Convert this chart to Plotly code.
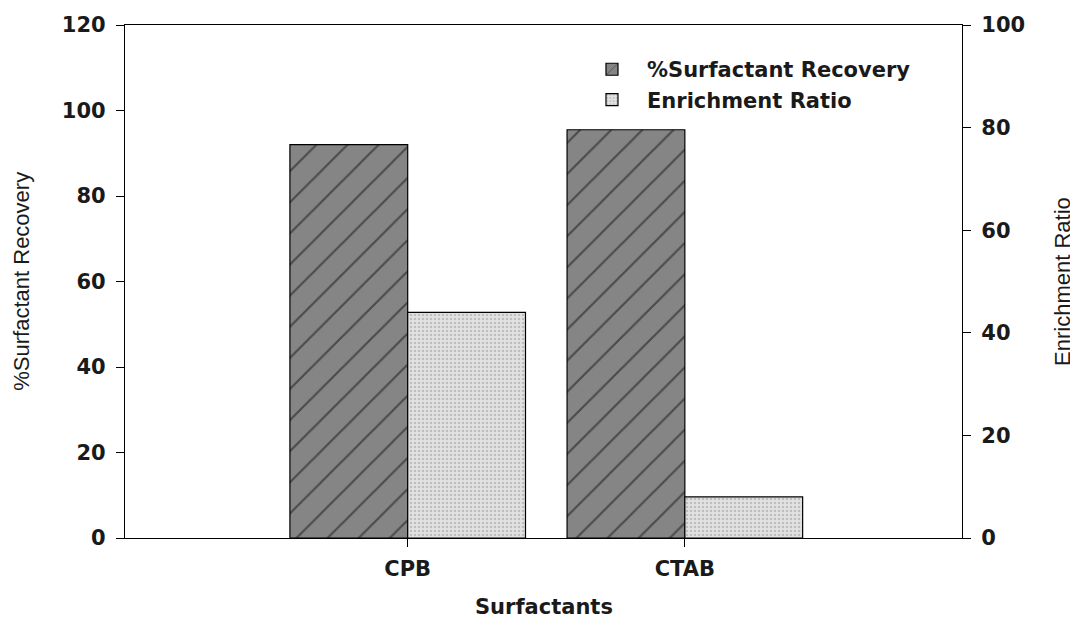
import plotly.graph_objects as go

surfactants = ["CPB", "CTAB"]
recovery = [92, 95.5]
enrichment = [44, 8]

fig = go.Figure()

fig.add_trace(go.Bar(
    x=surfactants, y=recovery, name="%Surfactant Recovery",
    width=0.425, offset=-0.425, yaxis="y",
    marker=dict(color="#858585", line=dict(color="black", width=1.2),
                pattern=dict(shape="/", fgcolor="#111111", bgcolor="#858585",
                             size=22, solidity=0.1, fillmode="overlay")),
))
fig.add_trace(go.Bar(
    x=surfactants, y=enrichment, name="Enrichment Ratio",
    width=0.425, offset=0, yaxis="y2",
    marker=dict(color="#e2e2e2", line=dict(color="black", width=1.2),
                pattern=dict(shape=".", fgcolor="#9a9a9a", bgcolor="#e2e2e2",
                             size=4, solidity=0.3, fillmode="overlay")),
))

bold = dict(family="DejaVu Sans", size=21, color="#1a1a1a", weight="bold")
plain = dict(family="Liberation Sans", size=22, color="#1a1a1a")

# page has an 8px body margin: figure sized/shifted so it fits the window
fig.update_layout(
    width=1070, height=617,
    margin=dict(l=117, r=116, t=17, b=87, autoexpand=False),
    paper_bgcolor="white", plot_bgcolor="white",
    font=dict(family="DejaVu Sans", color="#1a1a1a"),
    barmode="overlay",
    showlegend=True,
    legend=dict(x=0.54, y=0.953, xanchor="left", yanchor="top",
                bgcolor="rgba(0,0,0,0)", tracegroupgap=0, itemwidth=60,
                font=dict(family="DejaVu Sans", size=21, color="#1a1a1a", weight="bold")),
    xaxis=dict(range=[-1.02, 2.0], showline=True, linecolor="black", linewidth=1.2,
               mirror=True, ticks="outside", ticklen=8, tickcolor="black",
               tickfont=bold, showgrid=False, automargin=False, ticklabelstandoff=4),
    yaxis=dict(range=[0, 120], dtick=20, showline=True, linecolor="black", linewidth=1.2,
               ticks="outside", ticklen=8, tickcolor="black", tickfont=bold,
               showgrid=False, zeroline=False, automargin=False, ticklabelstandoff=6),
    yaxis2=dict(range=[0, 100], dtick=20, overlaying="y", side="right",
                showline=True, linecolor="black", linewidth=1.2,
                ticks="outside", ticklen=8, tickcolor="black", tickfont=bold,
                showgrid=False, zeroline=False, automargin=False, ticklabelstandoff=6),
    annotations=[
        dict(text="Surfactants", xref="paper", yref="paper", x=0.5, y=-0.135,
             xanchor="center", yanchor="middle", showarrow=False, font=bold),
        dict(text="%Surfactant Recovery", xref="paper", yref="paper", x=-0.124, y=0.5,
             xanchor="center", yanchor="middle", showarrow=False, textangle=-90, font=plain),
        dict(text="Enrichment Ratio", xref="paper", yref="paper", x=1.12, y=0.5,
             xanchor="center", yanchor="middle", showarrow=False, textangle=-90, font=plain),
    ],
)

fig.write_html("out.html")
